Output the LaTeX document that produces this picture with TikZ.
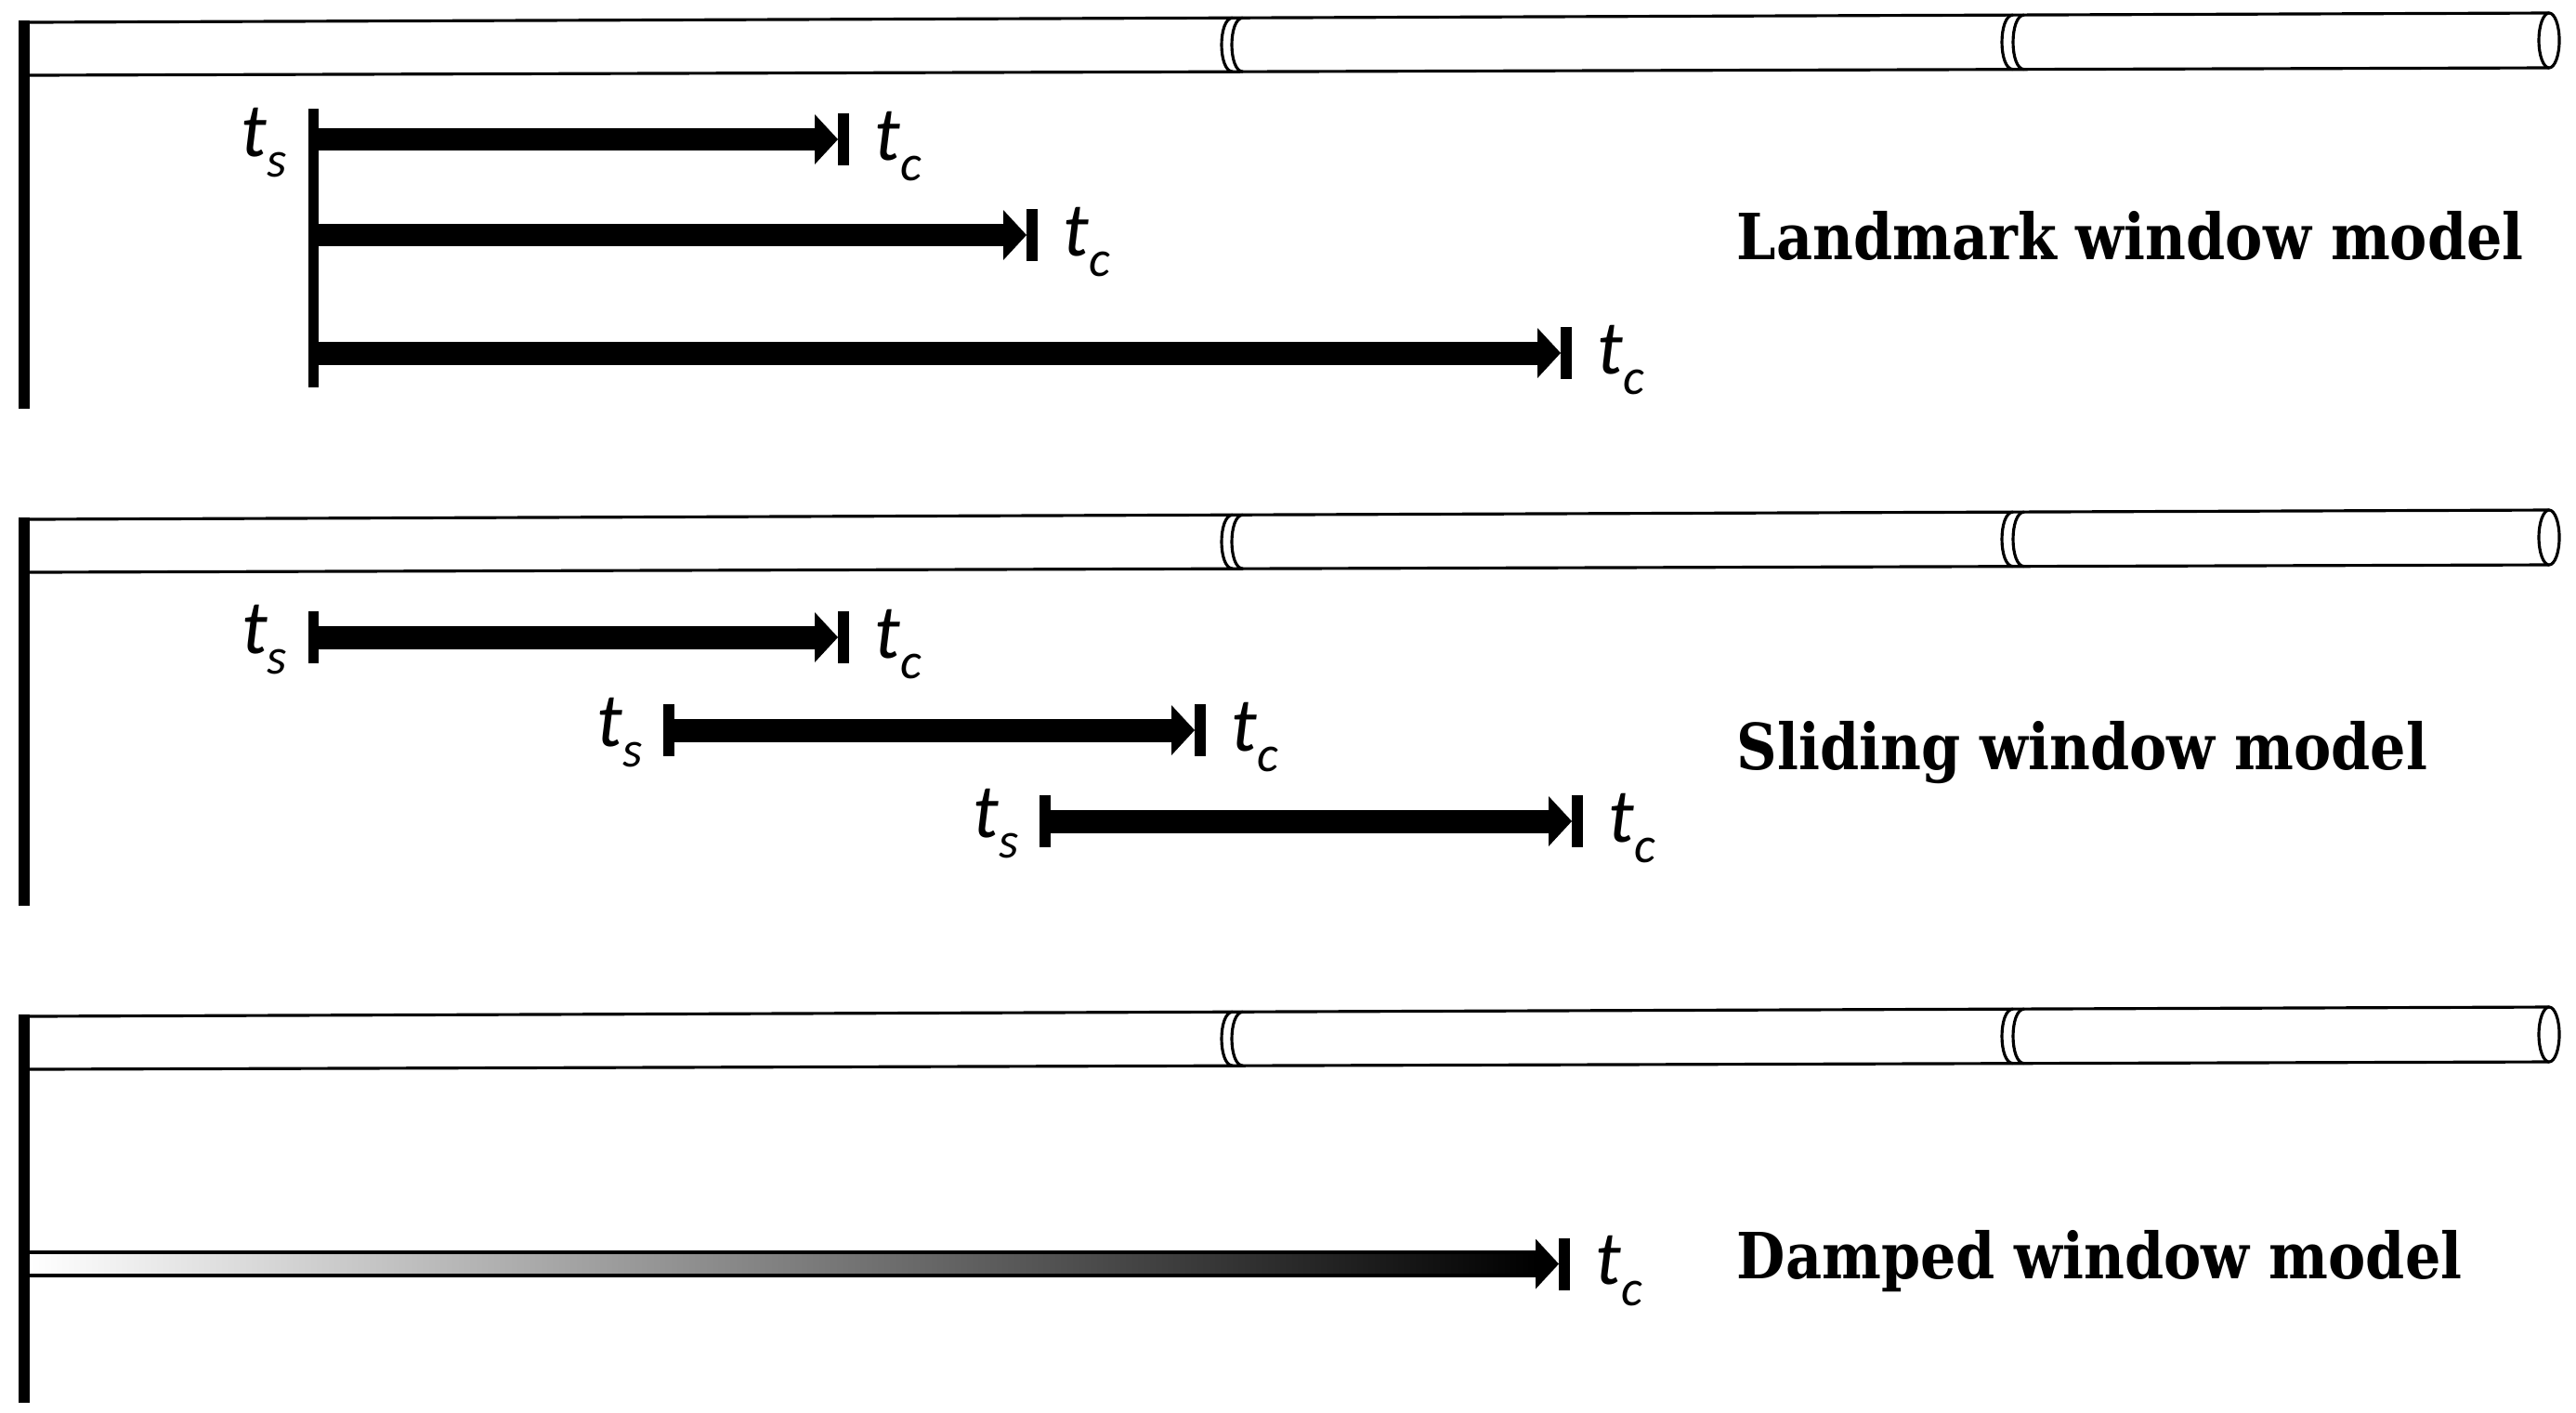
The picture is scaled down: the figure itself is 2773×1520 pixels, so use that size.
\documentclass[tikz,border=0pt]{standalone}
\usepackage{fontspec}
\usepackage{tikz}
\usetikzlibrary{calc}
\newfontfamily\tsymfont{Carlito}
\newfontfamily\modelfont[FakeStretch=0.88]{DejaVu Serif}
\newcommand{\tlab}[1]{{\tsymfont\itshape\fontsize{23.5}{25}\selectfont t}\raisebox{-6.5pt}{\tsymfont\itshape\fontsize{15.5}{17}\selectfont #1}}
\tikzset{
  tube/.style={line width=0.9pt},
  axisbar/.style={line width=3.4pt},
  tick/.style={line width=3.4pt},
  shaft/.style={line width=7.1pt},
  tlabel/.style={inner sep=0pt, anchor=base west},
  model/.style={inner sep=0pt, anchor=base west, font=\modelfont\bfseries\fontsize{19.5}{22}\selectfont}
}

\begin{document}
\begin{tikzpicture}[x=0.01cm,y=-0.01cm]
  \useasboundingbox (0,0) rectangle (2773,1520);

  % Draw the three time axes (tube, breaks, origin bar)
  \foreach \pn/\yy in {lm/24, sl/559, dm/1094} {
    \draw[tube] (32,\yy) -- (2744,\yy-10);
    \draw[tube] (32,\yy+57) -- (2744,\yy+49);
    \draw[tube, fill=white] (2744,\yy+19.5) ellipse [x radius=0.11cm, y radius=0.295cm];
    \foreach \xx/\dd in {1327/4.8, 1338/4.8, 2167/7.9, 2179/7.9}
      \draw[tube] (\xx,\yy-\dd) .. controls (\xx-16,\yy-\dd) and (\xx-16,\yy+57-\dd*0.8) .. (\xx,\yy+57-\dd*0.8);
    \coordinate (\pn-o) at (26,\yy-2);
    \draw[axisbar] (\pn-o) -- ++(0,418);
  }

  % Landmark window model
  \coordinate (lm-s) at (337.5,117);
  \draw[tick] (lm-s) -- ++(0,300);
  \node[tlabel] (lm-ts) at (259,168) {\tlab{s}};
  \foreach \ii/\yy/\en in {1/150/902, 2/253/1105, 3/380/1680} {
    \coordinate (lm-a\ii) at (337.5,\yy);
    \coordinate (lm-b\ii) at (\en,\yy);
    \draw[shaft] (lm-a\ii) -- ($(lm-b\ii)+(-24,0)$);
    \fill (lm-b\ii) -- ++(-25,-27) -- ++(0,54) -- cycle;
    \draw[tick] ($(lm-b\ii)+(6,-28)$) -- ++(0,56);
    \node[tlabel] (lm-tc\ii) at ($(lm-b\ii)+(39,22)$) {\tlab{c}};
  }
  \node[model] (lm-name) at (1869,279) {Landmark window model};

  % Sliding window model
  \foreach \ii/\yy/\st/\en in {1/686/337.5/902, 2/786/720/1286, 3/884/1125/1692} {
    \coordinate (sl-a\ii) at (\st,\yy);
    \coordinate (sl-b\ii) at (\en,\yy);
    \draw[tick] ($(sl-a\ii)+(0,-28)$) -- ++(0,56);
    \draw[shaft] (sl-a\ii) -- ($(sl-b\ii)+(-24,0)$);
    \fill (sl-b\ii) -- ++(-25,-27) -- ++(0,54) -- cycle;
    \draw[tick] ($(sl-b\ii)+(6,-28)$) -- ++(0,56);
    \node[tlabel] (sl-ts\ii) at ($(sl-a\ii)+(-78,17)$) {\tlab{s}};
    \node[tlabel] (sl-tc\ii) at ($(sl-b\ii)+(39,22)$) {\tlab{c}};
  }
  \node[model] (sl-name) at (1869,828) {Sliding window model};

  % Damped window model
  \coordinate (dm-a) at (32,1360.5);
  \coordinate (dm-b) at (1678,1360.5);
  \shade[left color=white, right color=black] ($(dm-a)+(0,-12.5)$) rectangle ($(dm-b)+(-24,12.5)$);
  \draw[tube] ($(dm-a)+(0,-12.5)$) -- ($(dm-b)+(-24,-12.5)$);
  \draw[tube] ($(dm-a)+(0,12.5)$) -- ($(dm-b)+(-24,12.5)$);
  \fill (dm-b) -- ++(-25,-27) -- ++(0,54) -- cycle;
  \draw[tick] ($(dm-b)+(6,-28)$) -- ++(0,56);
  \node[tlabel] (dm-tc) at ($(dm-b)+(39,22)$) {\tlab{c}};
  \node[model] (dm-name) at (1869,1376) {Damped window model};
\end{tikzpicture}
\end{document}
